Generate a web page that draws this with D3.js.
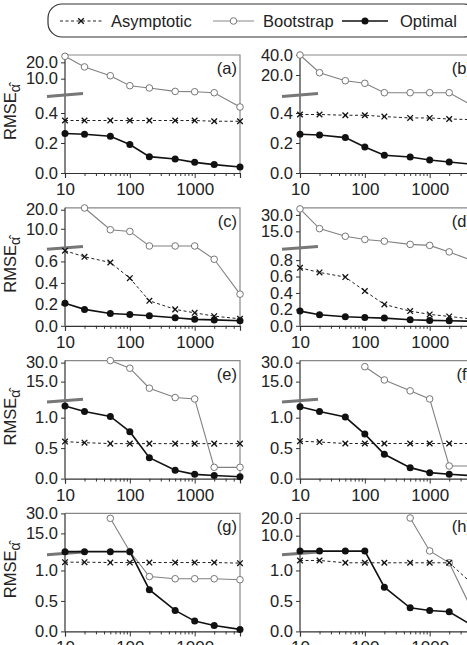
<!DOCTYPE html>
<html>
<head>
<meta charset="utf-8">
<script src="https://cdn.jsdelivr.net/npm/d3@7"></script>
<style>
  body { margin: 0; background: #fff; }
  svg { display: block; font-family: "Liberation Sans", Arial, sans-serif; }
</style>
</head>
<body>
<script>
// sample sizes on the x axis
var nValues = [10, 20, 50, 100, 200, 500, 1000, 2000, 5000];
var panelLabels = ["(a)", "(b)", "(c)", "(d)", "(e)", "(f)", "(g)", "(h)"];
var seriesNames = ["Asymptotic", "Bootstrap", "Optimal"];

// values, one row per panel
var asymptotic = [
  [0.35, 0.35, 0.35, 0.35, 0.35, 0.35, 0.35, 0.345, 0.345],
  [0.39, 0.39, 0.385, 0.385, 0.376, 0.367, 0.367, 0.36, 0.355],
  [0.70, 0.643, 0.59, 0.444, 0.233, 0.153, 0.121, 0.09, 0.065],
  [0.706, 0.65, 0.593, 0.423, 0.26, 0.179, 0.139, 0.114, 0.078],
  [0.607, 0.59, 0.574, 0.574, 0.574, 0.574, 0.574, 0.574, 0.574],
  [0.614, 0.60, 0.576, 0.576, 0.576, 0.576, 0.576, 0.576, 0.576],
  [1.136, 1.136, 1.13, 1.13, 1.13, 1.13, 1.13, 1.13, 1.12],
  [1.164, 1.164, 1.126, 1.126, 1.126, 1.126, 1.126, 1.126, 0.74]
];
var bootstrap = [
  [23.7, 17.2, 11.8, 5.7, 4.3, 2.2, 2.0, 1.4, 0.44],
  [40, 22.3, 14.3, 11.7, 2.3, 2.3, 2.3, 2.3, 0.44],
  [null, 20.9, 9.5, 8.6, 0.95, 0.95, 0.95, 0.62, 0.295],
  [35.5, 17.5, 10.5, 7.6, 6.0, 3.1, 2.2, 0.90, 0.78],
  [null, null, 31.6, 25.6, 9.8, 2.4, 1.3, 0.185, 0.185],
  [null, null, null, 26.8, 16.3, 7.7, 1.3, 0.207, 0.207],
  [null, null, 26.3, 1.4, 0.9, 0.864, 0.864, 0.864, 0.848],
  [null, null, null, null, null, 20, 1.4, 1.126, 0.25]
];
var optimal = [
  [0.263, 0.258, 0.245, 0.19, 0.109, 0.093, 0.071, 0.056, 0.04],
  [0.258, 0.253, 0.236, 0.173, 0.118, 0.107, 0.087, 0.073, 0.057],
  [0.21, 0.153, 0.115, 0.106, 0.093, 0.075, 0.06, 0.055, 0.047],
  [0.179, 0.134, 0.11, 0.102, 0.094, 0.073, 0.066, 0.062, 0.055],
  [1.19, 1.10, 1.02, 0.77, 0.344, 0.136, 0.07, 0.05, 0.03],
  [1.18, 1.10, 1.01, 0.73, 0.40, 0.18, 0.098, 0.072, 0.044],
  [1.3, 1.3, 1.3, 1.3, 0.684, 0.344, 0.169, 0.098, 0.033],
  [1.3, 1.3, 1.3, 1.3, 0.726, 0.388, 0.344, 0.323, 0.07]
];

// broken y axis: lower linear part and upper compressed part
var lowMax = [0.52, 0.52, 0.727, 0.95, 1.28, 1.28, 1.28, 1.28];
var upMax = [24.5, 40, 21, 36.5, 31.6, 31.6, 30, 22.6];
var lowTicks = [
  [0, 0.2, 0.4], [0, 0.2, 0.4], [0, 0.2, 0.4, 0.6], [0, 0.2, 0.4, 0.6, 0.8],
  [0, 0.5, 1.0], [0, 0.5, 1.0], [0, 0.5, 1.0], [0, 0.5, 1.0]
];
var upTicks = [[10, 20], [20, 40], [10, 20], [15, 30], [15, 30], [15, 30], [15, 30], [10, 20]];
var majorX = [10, 100, 1000];
var minorX = [20, 30, 40, 50, 60, 70, 80, 90, 200, 300, 400, 500, 600, 700, 800, 900, 2000, 3000, 4000, 5000];

var width = 467, height = 645;
var colLeft = [65, 300];
var plotW = 175;
var top0 = 55, rowStep = 152.8;
var upperH = 40, lowerH = 78;

var svg = d3.select("body").append("svg")
  .attr("width", width)
  .attr("height", height);

// legend
var legend = svg.append("g");
legend.append("rect")
  .attr("x", 48).attr("y", 4)
  .attr("width", 430).attr("height", 33)
  .attr("rx", 14)
  .attr("fill", "none")
  .attr("stroke", "#333")
  .attr("stroke-width", 1.2);

var legItems = [
  {x0: 60, x1: 102, tx: 111},
  {x0: 213, x1: 254, tx: 263},
  {x0: 342, x1: 388, tx: 400}
];
var ly = 21;
legItems.forEach(function(it, i) {
  var line = legend.append("line")
    .attr("x1", it.x0).attr("x2", it.x1)
    .attr("y1", ly).attr("y2", ly);
  var mx = (it.x0 + it.x1) / 2;
  if (i == 0) {
    line.attr("stroke", "#222").attr("stroke-dasharray", "3,2.5").attr("stroke-width", 1);
    drawCross(legend, mx, ly);
  } else if (i == 1) {
    line.attr("stroke", "#888").attr("stroke-width", 1);
    legend.append("circle").attr("cx", mx).attr("cy", ly).attr("r", 3.3)
      .attr("fill", "#fff").attr("stroke", "#777").attr("stroke-width", 1);
  } else {
    line.attr("stroke", "#111").attr("stroke-width", 1.6);
    legend.append("circle").attr("cx", mx).attr("cy", ly).attr("r", 3.5).attr("fill", "#111");
  }
  legend.append("text")
    .attr("x", it.tx).attr("y", ly + 6)
    .attr("font-size", 16.5)
    .attr("fill", "#222")
    .text(seriesNames[i]);
});

function drawCross(g, cx, cy) {
  g.append("path")
    .attr("d", "M" + (cx - 2.8) + "," + (cy - 2.8) + "L" + (cx + 2.8) + "," + (cy + 2.8) +
               "M" + (cx - 2.8) + "," + (cy + 2.8) + "L" + (cx + 2.8) + "," + (cy - 2.8))
    .attr("stroke", "#111")
    .attr("stroke-width", 1.3)
    .attr("fill", "none");
}

for (var p = 0; p < 8; p++) {
  drawPanel(p);
}

function drawPanel(p) {
  var col = p % 2, row = Math.floor(p / 2);
  var left = colLeft[col];
  var T = top0 + row * rowStep;
  var B = T + upperH;
  var bot = B + lowerH;

  var x = d3.scaleLog().domain([10, 5000]).range([left, left + plotW]);
  var yLow = d3.scaleLinear().domain([0, lowMax[p]]).range([bot, B]);
  var yUp = d3.scaleLinear().domain([0, upMax[p]]).range([B, T]);
  function yPos(v) { return v <= lowMax[p] ? yLow(v) : yUp(v); }

  var g = svg.append("g");

  // frame: top and right
  g.append("path")
    .attr("d", "M" + left + "," + T + "H" + (left + plotW) + "V" + bot)
    .attr("fill", "none")
    .attr("stroke", "#888")
    .attr("stroke-width", 1.2);

  // y axes
  var axL = g.append("g")
    .attr("transform", "translate(" + left + ",0)")
    .call(d3.axisLeft(yLow).tickValues(lowTicks[p]).tickFormat(d3.format(".1f")).tickSize(4).tickPadding(3));
  var axU = g.append("g")
    .attr("transform", "translate(" + left + ",0)")
    .call(d3.axisLeft(yUp).tickValues(upTicks[p]).tickFormat(d3.format(".1f")).tickSize(4).tickPadding(3));
  g.append("line")
    .attr("x1", left).attr("x2", left)
    .attr("y1", T).attr("y2", bot)
    .attr("stroke", "#333").attr("stroke-width", 1.2);

  // x axis
  var axX = g.append("g")
    .attr("transform", "translate(0," + bot + ")")
    .call(d3.axisBottom(x).tickValues(majorX).tickFormat(d3.format("d")).tickSize(5).tickPadding(5));
  var axMinor = g.append("g")
    .attr("transform", "translate(0," + bot + ")")
    .call(d3.axisBottom(x).tickValues(minorX).tickFormat("").tickSize(3));
  axMinor.select(".domain").remove();

  [axL, axU, axX, axMinor].forEach(function(a) {
    a.selectAll(".domain").attr("stroke", "#333").attr("stroke-width", 1.2);
    a.selectAll(".tick line").attr("stroke", "#333");
    a.selectAll("text")
      .attr("font-size", 16.5)
      .attr("font-family", "Liberation Sans, Arial, sans-serif")
      .attr("fill", "#222");
  });
  axX.selectAll("text").attr("font-size", 17);
  axL.select(".domain").remove();
  axU.select(".domain").remove();

  // break marker
  g.append("line")
    .attr("x1", left - 18).attr("y1", B + 1.4)
    .attr("x2", left + 18).attr("y2", B - 1.4)
    .attr("stroke", "#777")
    .attr("stroke-width", 3);

  // panel label
  g.append("text")
    .attr("x", left + plotW - 3)
    .attr("y", T + 19)
    .attr("text-anchor", "end")
    .attr("font-size", 16.5)
    .attr("fill", "#222")
    .text(panelLabels[p]);

  // y label on left column
  if (col == 0) {
    var lab = g.append("text")
      .attr("transform", "translate(16," + (T + 57) + ") rotate(-90)")
      .attr("text-anchor", "middle")
      .attr("font-size", 16.5)
      .attr("fill", "#222");
    lab.append("tspan").text("RMSE");
    lab.append("tspan").attr("dy", 4).attr("font-size", 14).text("\u03B1\u0302");
  }

  var plotArea = g.append("g");
  var line = d3.line()
    .defined(function(d) { return d.v != null; })
    .x(function(d) { return x(d.n); })
    .y(function(d) { return yPos(d.v); });

  function pts(arr) {
    return nValues.map(function(n, i) { return {n: n, v: arr[i]}; });
  }

  var bs = pts(bootstrap[p]);
  var as = pts(asymptotic[p]);
  var op = pts(optimal[p]);

  plotArea.append("path").datum(bs)
    .attr("d", line)
    .attr("fill", "none")
    .attr("stroke", "#808080")
    .attr("stroke-width", 1.1);
  plotArea.append("path").datum(as)
    .attr("d", line)
    .attr("fill", "none")
    .attr("stroke", "#222")
    .attr("stroke-dasharray", "3,2.5")
    .attr("stroke-width", 1);
  plotArea.append("path").datum(op)
    .attr("d", line)
    .attr("fill", "none")
    .attr("stroke", "#111")
    .attr("stroke-width", 1.6);

  bs.filter(function(d) { return d.v != null; }).forEach(function(d) {
    plotArea.append("circle")
      .attr("cx", x(d.n)).attr("cy", yPos(d.v)).attr("r", 3.3)
      .attr("fill", "#fff").attr("stroke", "#777").attr("stroke-width", 1);
  });
  as.forEach(function(d) {
    drawCross(plotArea, x(d.n), yPos(d.v));
  });
  op.forEach(function(d) {
    plotArea.append("circle")
      .attr("cx", x(d.n)).attr("cy", yPos(d.v)).attr("r", 3.5)
      .attr("fill", "#111");
  });
}
</script>
</body>
</html>
